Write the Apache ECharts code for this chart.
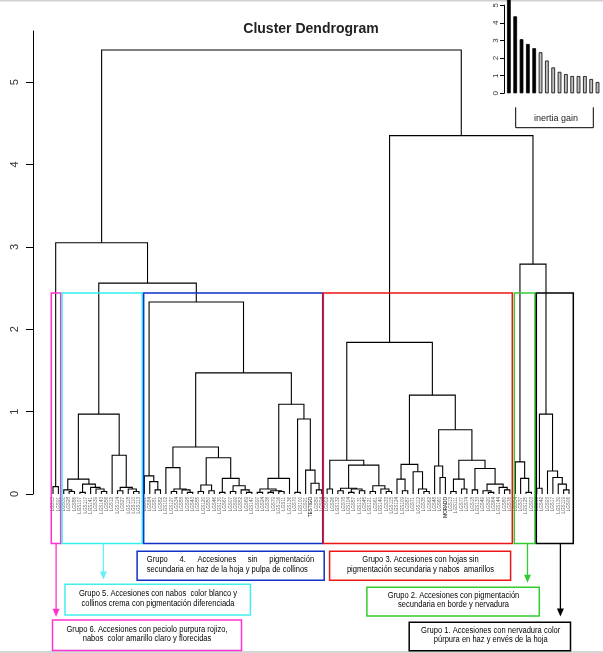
<!DOCTYPE html>
<html><head><meta charset="utf-8">
<script src="https://cdn.jsdelivr.net/npm/echarts@6/dist/echarts.min.js"></script>
<style>html,body{margin:0;padding:0;background:#fff;overflow:hidden}#c{width:603px;height:653px}</style>
</head><body><div id="c"></div><script>
// ---------------- data ----------------
const group6Tree = [0.09, 'LGS15', 'LGS91'];
const group5Tree = [0.97,
  [0.18, [0.05, 'LGS31', [0.03, 'LGS28', 'LGS86']], [0.12, [0.02, 'LGS107', 'LGS117'], [0.08, 'LGS141', [0.06, 'LGS39', [0.03, 'LGS143', 'LGS56']]]]],
  [0.47, 'LGS12', [0.08, [0.04, 'LGS114', 'LGS27'], [0.06, 'LGS118', [0.03, 'LGS110', 'LGS113']]]]];
const group4Tree = [2.33,
  [0.22, 'LGS01', [0.15, 'LGS84', [0.05, 'LGS81', 'LGS82']]],
  [1.47,
    [0.57,
      [0.32, 'LGS102', [0.06, [0.03, 'LGS127', 'LGS34'], [0.05, 'LGS58', [0.02, 'LGS98', 'LGS43']]]],
      [0.44, [0.11, [0.03, 'LGS55', 'LGS120'], [0.04, 'LGS50', 'LGS46']],
        [0.19, [0.02, 'LGS130', 'LGS67'], [0.10, [0.03, 'LGS07', 'LGS99'], [0.05, 'LGS52', [0.02, 'LGS69', 'LGS147']]]]]],
    [1.09,
      [0.19, [0.06, [0.02, 'LGS97', 'LGS24'], [0.04, [0.02, 'LGS38', 'LGS79'], [0.03, 'LGS116', 'LGS11']]], 'LGS136'],
      [0.91, [0.02, 'LGS70', 'LGS100'], [0.29, 'LGS21', [0.13, 'TESTIGO', [0.05, 'LGS89', 'LGS94']]]]]]];
const group3Tree = [1.84,
  [0.41, [0.06, 'LGS02', 'LGS26'],
    [0.35, [0.07, [0.04, 'LGS132', 'LGS78'], [0.06, [0.02, 'LGS104', 'LGS57'], [0.04, 'LGS131', 'LGS45']]],
      [0.10, [0.03, 'LGS121', 'LGS61'], [0.06, 'LGS149', [0.03, 'LGS33', 'LGS115']]]]],
  [1.20,
    [0.36, [0.18, 'LGS124', [0.04, 'LGS109', 'LGS87']], [0.27, 'LGS71', [0.06, 'LGS112', [0.03, 'LGS35', 'LGS62']]]],
    [0.78, [0.34, 'LGS48', [0.20, 'LGS60', 'MORADO']],
      [0.41, [0.18, [0.03, 'LGS13', 'LGS111'], [0.06, 'LGS77', 'LGS74']],
        [0.31, [0.05, 'LGS18', 'LGS133'], [0.12, [0.04, 'LGS49', [0.02, 'LGS20', 'LGS64']], [0.08, 'LGS144', [0.05, 'LGS80', 'LGS76']]]]]]]];
const group2Tree = [0.39, 'LGS54', [0.19, 'LGS37', [0.02, 'LGS125', 'LGS03']]];
const group1Tree = [0.97, [0.07, 'LGS08', 'LGS42'], [0.28, 'LGS93', [0.20, 'LGS17', [0.12, 'LGS139', [0.05, 'LGS119', 'LGS06']]]]];
// heights of the upper merges: [groups 5+4, left cluster, groups 2+1, right cluster, root]
const upperMergeHeights = [2.56, 3.05, 2.79, 4.35, 5.39];
const darkLabels = ['TESTIGO', 'MORADO'];
const yTickValues = [0, 1, 2, 3, 4, 5];

const insetRanks = ['1','2','3','4','5','6','7','8','9','10','11','12','13','14','15'];
const insetGain = [5.39, 4.37, 3.07, 2.80, 2.56, 2.33, 1.86, 1.47, 1.22, 1.09, 0.98, 0.98, 0.98, 0.81, 0.64];
const insetBlackCount = 5;
const insetTicks = [0, 1, 2, 3, 4, 5];

// group boxes (in leaf-index units) and colours
const groupBoxFrom = [-0.32, 1.67, 16.87, 50.29, 85.82, 89.92];
const groupBoxTo   = [1.43, 16.61, 50.18, 85.45, 89.67, 96.80];
const groupColors  = ['#ff33cc', '#33eeee', '#1030c8', '#ee1515', '#33cc33', '#000000'];
const groupBoxYTop = 2.44, groupBoxYBottom = -0.6;

// ---------------- tree layout ----------------
const tree = [upperMergeHeights[4],
  [upperMergeHeights[1], group6Tree, [upperMergeHeights[0], group5Tree, group4Tree]],
  [upperMergeHeights[3], group3Tree, [upperMergeHeights[2], group2Tree, group1Tree]]];
const leaves = [], links = [];
function layout(n) {
  if (typeof n === 'string') { const i = leaves.length; leaves.push(n); return {x: i, h: 0}; }
  const a = layout(n[1]), b = layout(n[2]);
  links.push([a.x, a.h, b.x, b.h, n[0]]);
  return {x: (a.x + b.x) / 2, h: n[0]};
}
layout(tree);
const N = leaves.length;

// ---------------- chart ----------------
const chart = echarts.init(document.getElementById('c'), null, {renderer: 'canvas'});
const FONT = '"Liberation Sans",Arial,sans-serif';
const SP = 516 / (N - 1);
const gridLeft = 53 - 0.5 * SP, gridW = N * SP;

const boxData = groupBoxFrom.map((f, i) => [f, groupBoxTo[i], i]);

const option = {
  animation: false,
  backgroundColor: '#fff',
  grid: [
    {left: gridLeft, top: 31, width: gridW, bottom: 159, containLabel: false},
    {left: 505.7, top: 4.7, width: 95, height: 88.6, containLabel: false}
  ],
  xAxis: [
    {gridIndex: 0, type: 'value', min: -0.5, max: N - 0.5, show: false},
    {gridIndex: 0, type: 'category', data: leaves, position: 'bottom', boundaryGap: true,
      axisLine: {show: false}, axisTick: {show: false}, splitLine: {show: false},
      axisLabel: {interval: 0, rotate: 90, fontSize: 4.6, margin: 3, fontFamily: 'Liberation Sans',
        color: (v) => darkLabels.includes(v) ? '#000' : '#666'}},
    {gridIndex: 1, type: 'category', data: insetRanks, show: false, boundaryGap: true}
  ],
  yAxis: [
    {gridIndex: 0, type: 'value', min: 0, max: 5.62, interval: 1, position: 'left', offset: gridLeft - 33,
      splitLine: {show: false},
      axisLine: {show: true, onZero: false, lineStyle: {color: '#000', width: 1}},
      axisTick: {show: true, length: 7, customValues: yTickValues, lineStyle: {color: '#000', width: 1}},
      axisLabel: {customValues: yTickValues, rotate: 90, fontSize: 11, color: '#333', margin: 13, fontFamily: 'Liberation Sans'}},
    {gridIndex: 1, type: 'value', min: 0, max: 5, interval: 1, position: 'left', offset: 1.7,
      splitLine: {show: false},
      axisLine: {show: true, onZero: false, lineStyle: {color: '#000', width: 1}},
      axisTick: {show: true, length: 4, customValues: insetTicks, lineStyle: {color: '#000'}},
      axisLabel: {customValues: insetTicks, rotate: 90, fontSize: 8, color: '#333', margin: 4, fontFamily: 'Liberation Sans'}}
  ],
  series: [
    {type: 'custom', xAxisIndex: 0, yAxisIndex: 0, data: links, clip: false, silent: true,
      encode: {x: [0, 2], y: [1, 3, 4]},
      renderItem: (p, api) => {
        const x1 = api.value(0), h1 = api.value(1), x2 = api.value(2), h2 = api.value(3), h = api.value(4);
        return {type: 'polyline', shape: {points: [api.coord([x1, h1]), api.coord([x1, h]), api.coord([x2, h]), api.coord([x2, h2])]},
          style: {stroke: '#000', lineWidth: 1.1, fill: null}};
      }},
    {type: 'custom', xAxisIndex: 0, yAxisIndex: 0, data: boxData, clip: false, silent: true, z: 3,
      encode: {x: [0, 1]},
      renderItem: (p, api) => {
        const a = api.coord([api.value(0), groupBoxYTop]), b = api.coord([api.value(1), groupBoxYBottom]);
        return {type: 'rect', shape: {x: a[0], y: a[1], width: b[0] - a[0], height: b[1] - a[1]},
          style: {stroke: groupColors[api.value(2)], lineWidth: 1.5, fill: null}};
      }},
    {type: 'bar', xAxisIndex: 2, yAxisIndex: 1, barWidth: 3.7, clip: false, silent: true,
      data: insetGain.map((v, i) => ({value: v, itemStyle: {color: i < insetBlackCount ? '#000' : '#c0c0c0', borderColor: '#000', borderWidth: 0.8}}))}
  ],
  graphic: []
};

// annotation boxes
const annot = [
  {c: '#ff33cc', x: 52.5, y: 620, w: 189, h: 30.5, cx: 147, ly: [630, 639],
    lines: ['Grupo 6. Accesiones con peciolo purpura rojizo,', 'nabos  color amarillo claro y florecidas']},
  {c: '#44eeee', x: 65, y: 584.3, w: 185.4, h: 30.7, cx: 158, ly: [594, 603.3],
    lines: ['Grupo 5. Accesiones con nabos  color blanco y', 'collinos crema con pigmentación diferenciada']},
  {c: '#1030c8', x: 137.1, y: 551.3, w: 187.1, h: 29, cx: null, ly: [560, 569.3], jl: 146.8, jr: 314.2,
    lines: ['Grupo 4. Accesiones sin pigmentación', 'secundaria en haz de la hoja y pulpa de collinos']},
  {c: '#ee1515', x: 329.6, y: 551.3, w: 181, h: 29, cx: 420.5, ly: [560, 569.3],
    lines: ['Grupo 3. Accesiones con hojas sin', 'pigmentación secundaria y nabos  amarillos']},
  {c: '#33cc33', x: 366.9, y: 587.3, w: 172.4, h: 28.7, cx: 453.5, ly: [596, 605],
    lines: ['Grupo 2. Accesiones con pigmentación', 'secundaria en borde y nervadura']},
  {c: '#000000', x: 409.2, y: 622.3, w: 161.3, h: 28.5, cx: 490.7, ly: [630.7, 640],
    lines: ['Grupo 1. Accesiones con nervadura color', 'púrpura en haz y envés de la hoja']}
];
const FS = 8.5, SX = 0.89;
const mctx = document.createElement('canvas').getContext('2d');
mctx.font = FS + 'px ' + FONT;
const g = option.graphic;
annot.forEach(a => {
  g.push({type: 'rect', shape: {x: a.x, y: a.y, width: a.w, height: a.h}, style: {stroke: a.c, lineWidth: 1.5, fill: '#fff'}, z: 10});
  a.lines.forEach((t, k) => {
    if (a.cx === null && k === 0) {
      const words = t.split(' ');
      const ws = words.map(w => mctx.measureText(w).width * SX);
      const tot = ws.reduce((s, v) => s + v, 0);
      const gap = (a.jr - a.jl - tot) / (words.length - 1);
      let xx = a.jl;
      words.forEach((w, i) => {
        g.push({type: 'text', x: xx, y: a.ly[k], scaleX: SX, z: 11, style: {text: w, fill: '#000', fontSize: FS, fontFamily: FONT, align: 'left', verticalAlign: 'middle'}});
        xx += ws[i] + gap;
      });
    } else {
      g.push({type: 'text', x: a.cx === null ? a.jl : a.cx, y: a.ly[k], scaleX: SX, z: 11,
        style: {text: t, fill: '#000', fontSize: FS, fontFamily: FONT, align: a.cx === null ? 'left' : 'center', verticalAlign: 'middle'}});
    }
  });
});
// arrows
const arrows = [
  {c: '#ff33cc', x: 56.1, tip: 616.7},
  {c: '#66eeff', x: 103.4, tip: 579.5},
  {c: '#33cc33', x: 527.5, tip: 582.7},
  {c: '#000000', x: 560.4, tip: 616.5}
];
arrows.forEach(a => {
  g.push({type: 'line', shape: {x1: a.x, y1: 543.3, x2: a.x, y2: a.tip - 6}, style: {stroke: a.c, lineWidth: 1.3}, z: 9});
  g.push({type: 'polygon', shape: {points: [[a.x - 3.5, a.tip - 8], [a.x + 3.5, a.tip - 8], [a.x, a.tip]]}, style: {fill: a.c}, z: 9});
});
// title
g.push({type: 'text', x: 311, y: 29, style: {text: 'Cluster Dendrogram', fill: '#222', fontSize: 14, fontWeight: 'bold', fontFamily: FONT, align: 'center', verticalAlign: 'middle'}});
// inertia gain bracket
g.push({type: 'polyline', shape: {points: [[515.7, 107.3], [515.7, 127.7], [593.3, 127.7], [593.3, 107.3]]}, style: {stroke: '#000', lineWidth: 1, fill: null}});
g.push({type: 'text', x: 556, y: 119, style: {text: 'inertia gain', fill: '#222', fontSize: 9, fontFamily: FONT, align: 'center', verticalAlign: 'middle'}});
// page edges
g.push({type: 'line', shape: {x1: 0, y1: 0.8, x2: 603, y2: 0.8}, style: {stroke: '#d0d0d0', lineWidth: 1.6}});
g.push({type: 'line', shape: {x1: 0, y1: 652, x2: 603, y2: 652}, style: {stroke: '#c8c8c8', lineWidth: 1.4}});

chart.setOption(option);
</script></body></html>
